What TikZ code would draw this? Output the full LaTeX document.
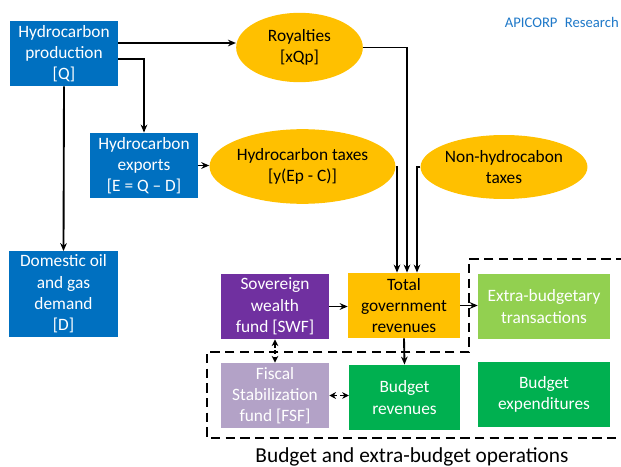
\documentclass[tikz,border=0pt]{standalone}
\usepackage{fontspec}
\setmainfont{Carlito}
\usetikzlibrary{shapes.geometric,calc,arrows.meta}
\definecolor{hblue}{HTML}{0070C0}
\definecolor{hyel}{HTML}{FFC000}
\definecolor{hpurp}{HTML}{7030A0}
\definecolor{hlpurp}{HTML}{B3A2C7}
\definecolor{hgreen}{HTML}{00B050}
\definecolor{hlgreen}{HTML}{92D050}
\definecolor{hlogo}{RGB}{30,120,200}
\tikzset{
  box/.style={rectangle, inner sep=0pt, align=center, font=\fontsize{13}{16}\selectfont},
  bluebox/.style={box, fill=hblue, text=white},
  ell/.style={ellipse, fill=hyel, inner sep=0pt, align=center, font=\fontsize{13}{16}\selectfont},
  arr/.style={line width=1.4pt, -{Stealth[length=6pt,width=5pt]}},
  darr/.style={line width=1.4pt, dash pattern=on 3pt off 2pt, {Stealth[length=5pt,width=5pt]}-{Stealth[length=5pt,width=5pt]}},
  dline/.style={line width=1.5pt, dash pattern=on 7pt off 4pt}
}
\begin{document}
\begin{tikzpicture}[x=0.75pt,y=-0.75pt]
\useasboundingbox (0,0) rectangle (621,467);
\node[bluebox, minimum width=81pt, minimum height=49pt] (prod) at (64,53.5) {Hydrocarbon\\production\\{[Q]}};
\node[bluebox, minimum width=81pt, minimum height=49pt] (exp) at (144,165.5) {Hydrocarbon\\exports\\{[E = Q – D]}};
\node[bluebox, minimum width=82pt, minimum height=64pt] (dom) at (63.5,294) {Domestic oil\\and gas\\demand\\{[D]}};
\node[ell, minimum width=95pt, minimum height=52pt] (roy) at (299.5,47.5) {Royalties\\{[xQp]}};
\node[ell, minimum width=121pt, minimum height=56pt] (tax) at (302.5,166.5) {Hydrocarbon taxes\\{[y(Ep - C)]}};
\node[ell, minimum width=111pt, minimum height=48pt] (nht) at (504,167) {Non-hydrocabon\\taxes};
\node[font=\fontsize{11}{13}\selectfont, text=hlogo, anchor=east, inner sep=0pt] (logo) at (619,22) {APICORP\enspace Research};
\node[box, fill=hpurp, text=white, minimum width=81pt, minimum height=49pt] (swf) at (275,306.5) {Sovereign\\wealth\\fund [SWF]};
\node[box, fill=hyel, text=black, minimum width=84pt, minimum height=49pt] (tot) at (404,305.5) {Total\\government\\revenues};
\node[box, fill=hlgreen, text=white, minimum width=99pt, minimum height=49pt] (ext) at (544,306.5) {Extra-budgetary\\transactions};
\node[box, fill=hlpurp, text=white, minimum width=81pt, minimum height=49pt] (fsf) at (275,395.5) {Fiscal\\Stabilization\\fund [FSF]};
\node[box, fill=hgreen, text=white, minimum width=83pt, minimum height=49pt] (brev) at (404.5,397.5) {Budget\\revenues};
\node[box, fill=hgreen, text=white, minimum width=99pt, minimum height=49pt] (bexp) at (544,394.5) {Budget\\expenditures};
\node[font=\fontsize{16}{19}\selectfont, inner sep=0pt, anchor=base] (cap) at (412,462) {Budget and extra-budget operations};
% connectors
\coordinate (p1) at ($(prod.east)+(0,-10.5)$);
\draw[arr] (p1) -- (p1 -| roy.west);
\draw[arr] ($(prod.east)+(0,5.5)$) -| (exp.north);
\draw[arr] (prod.south) -- (dom.north);
\draw[arr] (exp.east) -- (exp.east -| tax.west);
\draw[arr] (roy.east) -| ($(tot.north)+(3,0)$);
\draw[arr] (tax.east) -| ($(tot.north)+(-7,0)$);
\draw[arr] (nht.west) -| ($(tot.north)+(13,0)$);
\draw[arr] (swf.east) -- (swf.east -| tot.west);
\draw[arr] (tot.east) -- (tot.east -| ext.west);
\draw[arr] (tot.south) -- (brev.north);
\draw[darr] (swf.south) -- (fsf.north);
\draw[darr] (fsf.east) -- (fsf.east -| brev.west);
% dashed regions
\draw[dline] (640,259) -- (469,259) -- (469,352) -- (207,352) -- (207,438) -- (640,438);
\end{tikzpicture}
\end{document}
